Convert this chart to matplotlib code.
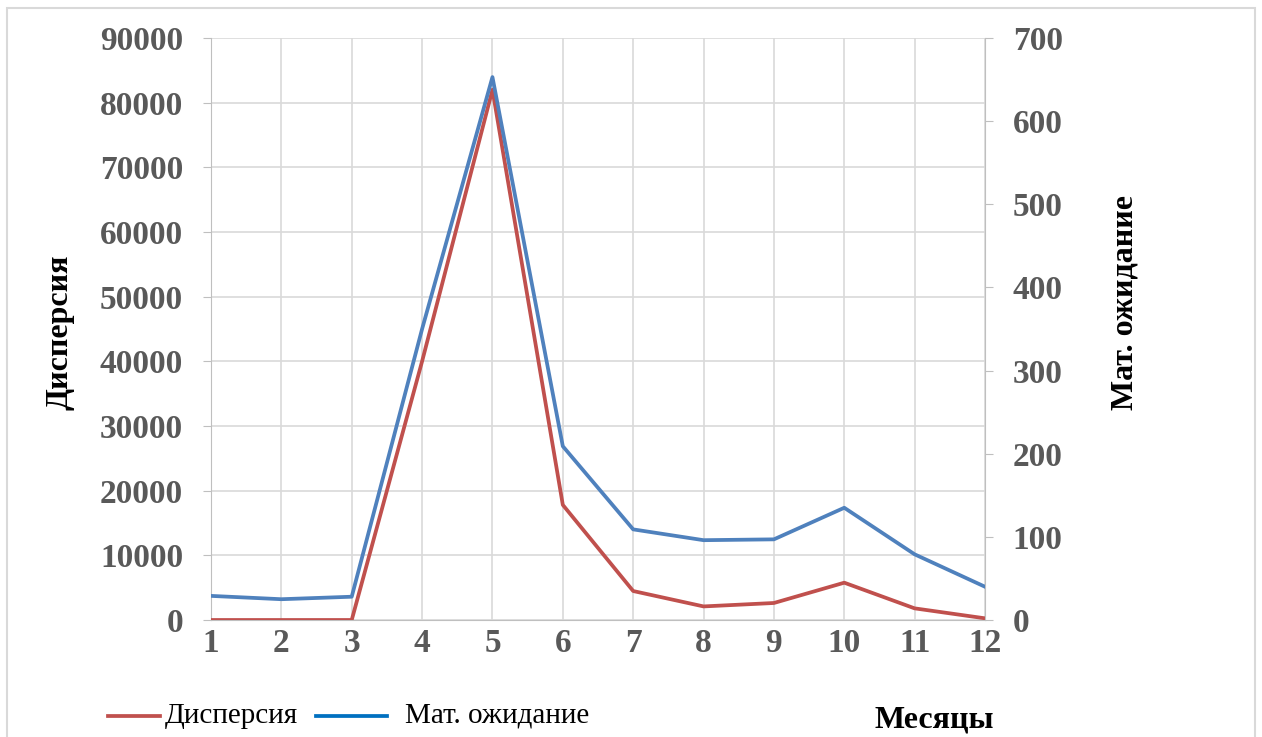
import matplotlib
matplotlib.use("Agg")
import matplotlib.pyplot as plt
from matplotlib.lines import Line2D
from matplotlib.patches import Rectangle

plt.rcParams['font.family'] = ['Liberation Serif', 'DejaVu Serif']

months = [1, 2, 3, 4, 5, 6, 7, 8, 9, 10, 11, 12]
dispersion = [0, 0, 0, 40000, 82000, 17800, 4480, 2100, 2630, 5770, 1800, 260]
expectation = [29, 25, 28, 350, 653, 209, 109, 96, 97, 135, 79, 40]
left_ticks = list(range(0, 90001, 10000))
right_ticks = list(range(0, 701, 100))
legend_labels = ['Дисперсия', 'Мат. ожидание']

red = '#C0504D'
blue = '#4F81BD'
blue_legend = '#0070C0'
grid_c = '#D9D9D9'
spine_c = '#BFBFBF'
tick_c = '#595959'

W, H = 1262, 737
fig = plt.figure(figsize=(W / 100, H / 100), dpi=100)
fig.patches.append(Rectangle((7 / W, -0.01), 1248 / W, 1 - 8 / H + 0.01,
                             transform=fig.transFigure, fill=False,
                             edgecolor='#D9D9D9', linewidth=1.5))

ax = fig.add_axes([211 / W, 1 - 620 / H, (985 - 211) / W, (620 - 38) / H])
ax2 = ax.twinx()

ax.plot(months, dispersion, color=red, linewidth=2.7, solid_joinstyle='round', zorder=3)
ax2.plot(months, expectation, color=blue, linewidth=2.7, solid_joinstyle='round', zorder=3)

ax.set_xlim(1, 12)
ax.set_ylim(0, 90000)
ax2.set_ylim(0, 700)
ax.set_xticks(months)
ax.set_yticks(left_ticks)
ax2.set_yticks(right_ticks)

ax.grid(True, color=grid_c, linewidth=1.2)
ax.set_axisbelow(True)

for a in (ax, ax2):
    for s in a.spines.values():
        s.set_visible(False)
ax.spines['left'].set_visible(True)
ax.spines['left'].set_color(spine_c)
ax.spines['bottom'].set_visible(True)
ax.spines['bottom'].set_color(spine_c)
ax2.spines['right'].set_visible(True)
ax2.spines['right'].set_color(spine_c)

ax.tick_params(axis='y', length=6, color=spine_c, labelsize=24, labelcolor=tick_c, pad=14)
ax.tick_params(axis='x', length=0, labelsize=24, labelcolor=tick_c, pad=6)
ax2.tick_params(axis='y', length=6, color=spine_c, labelsize=24, labelcolor=tick_c, pad=14)
for lbl in ax.get_xticklabels() + ax.get_yticklabels() + ax2.get_yticklabels():
    lbl.set_fontweight('bold')

fig.text(60 / W, 1 - 332 / H, 'Дисперсия', rotation=90, ha='center', va='center',
         fontsize=23, fontweight='bold', color='black')
fig.text(1125 / W, 1 - 302 / H, 'Мат. ожидание', rotation=90, ha='center', va='center',
         fontsize=23, fontweight='bold', color='black')
fig.text(934 / W, 1 - 720 / H, 'Месяцы', ha='center', va='center',
         fontsize=23, fontweight='bold', color='black')

# legend drawn by hand to keep the uneven spacing of the original
ly = 1 - 716 / H
fig.lines.append(Line2D([108 / W, 160 / W], [ly, ly], transform=fig.transFigure,
                        color=red, linewidth=2.7))
fig.text(165 / W, ly, legend_labels[0], ha='left', va='center', fontsize=21)
fig.lines.append(Line2D([316 / W, 387 / W], [ly, ly], transform=fig.transFigure,
                        color=blue_legend, linewidth=2.7))
fig.text(405 / W, ly, legend_labels[1], ha='left', va='center', fontsize=21)

fig.savefig('out.png', dpi=100)
